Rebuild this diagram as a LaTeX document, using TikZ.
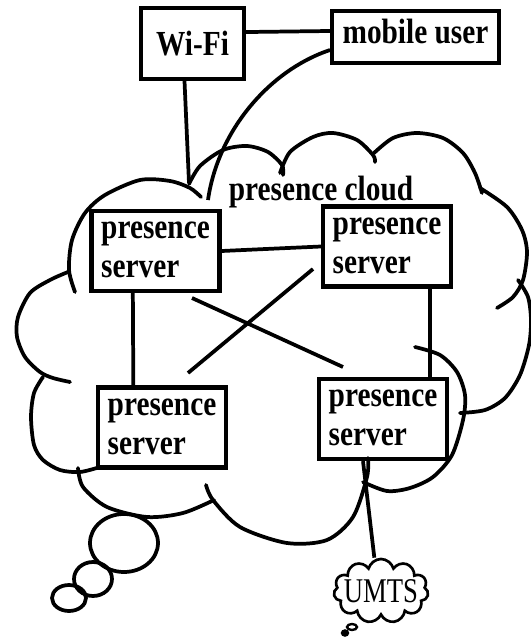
\documentclass[tikz,border=0pt]{standalone}
\usepackage{fontspec}
\setmainfont{Liberation Serif}
\usepackage{graphicx}
\usetikzlibrary{shapes.symbols}
\newcommand{\tall}[1]{\scalebox{1}[1.2]{#1}}

\begin{document}
\begin{tikzpicture}[x=0.75pt,y=-0.75pt,
    box/.style={draw, line width=3.2pt, inner sep=0pt, font=\fontsize{22}{29.25}\selectfont\bfseries},
    server/.style={box, minimum width=96pt, minimum height=60pt, align=left, text depth=1.5pt},
    wire/.style={line width=2.8pt},
    puff/.style={line width=2.8pt, line cap=round}]
\useasboundingbox (0,0) rectangle (531,642);

% the big cloud, bump by bump
\draw[puff] plot[smooth] coordinates {(75,292) (69,270) (72,240) (85,213) (105,195) (140,180) (170,181) (190,188) (201,197)};
\draw[puff] plot[smooth] coordinates {(189,184) (200,166) (223,150) (247,146) (268,152) (282,165) (283,175)};
\draw[puff] plot[smooth] coordinates {(280,173) (290,152) (313,137) (333,133) (357,140) (373,155) (375,162)};
\draw[puff] plot[smooth] coordinates {(374,153) (393,138) (417,133) (443,138) (463,153) (475,173) (482,193)};
\draw[puff] plot[smooth] coordinates {(480,188) (507,207) (522,230) (527,252) (523,280) (513,297) (497,308)};
\draw[puff] plot[smooth] coordinates {(518,280) (528,297) (531,320) (529,345) (520,375) (505,398) (485,410) (460,413)};
\draw[puff] plot[smooth] coordinates {(415,347) (440,355) (457,372) (465,395) (463,420) (452,455) (433,477) (410,488) (387,491) (363,482)};
\draw[puff] plot[smooth] coordinates {(368,458) (367,477) (353,517) (327,540) (287,543) (240,527) (213,500) (206,485)};
\draw[puff] plot[smooth] coordinates {(214,500) (183,513) (147,517) (107,507) (83,487) (78,468)};
\draw[puff] plot[smooth] coordinates {(43,377) (34,393) (31,417) (34,445) (43,460) (60,470) (80,472) (100,467)};
\draw[puff] plot[smooth] coordinates {(68,272) (50,280) (30,293) (18,317) (17,337) (25,357) (40,372) (53,378) (70,382)};

% thought bubbles
\draw[puff] (124,543) ellipse [x radius=34, y radius=29];
\draw[puff] (93,579) ellipse [x radius=19, y radius=17];
\draw[puff] (69,598) ellipse [x radius=17, y radius=13];

\node[font=\fontsize{22}{25}\selectfont\bfseries, anchor=base] (cloudname) at (321,200) {\tall{presence cloud}};

\node[box, minimum width=77pt, minimum height=53pt] (wifi) at (192.5,43.5) {\tall{Wi-Fi}};
\node[box, minimum width=125pt, minimum height=39pt, text depth=8pt] (mobile) at (415.5,37) {\tall{mobile user}};

\node[server] (tl) at (155.5,251) {\tall{presence}\\\tall{server}};
\node[server] (tr) at (387,246.5) {\tall{presence}\\\tall{server}};
\node[server] (bl) at (162,427.5) {\tall{presence}\\\tall{server}};
\node[server] (br) at (383,419) {\tall{presence}\\\tall{server}};

\node[cloud, draw, line width=2pt, cloud puffs=11, cloud ignores aspect, minimum width=71pt, minimum height=48pt, inner sep=0pt] (umts) at (381,591) {};
\node[font=\fontsize{20}{22}\selectfont] (umtsname) at (umts.center) {\scalebox{1}[1.3]{UMTS}};
\draw[line width=1.8pt] (352,627) ellipse [x radius=5, y radius=3];
\draw[line width=1.8pt, fill] (345,633) ellipse [x radius=3, y radius=2.5];

% links
\coordinate (wifiend) at (189,183);
\coordinate (mobileend) at (208,200);
\draw[wire] ([yshift=8.6pt]wifi.east) -- ([yshift=4.5pt]mobile.west);
\draw[wire] ([xshift=-6pt]wifi.south) -- (wifiend);
\draw[wire] ([yshift=-9.75pt]mobile.west) .. controls (270,70) and (218,130) .. (mobileend);

\coordinate (a1) at (313,269);
\coordinate (a2) at (188,373);
\coordinate (b1) at (192,298);
\coordinate (b2) at (343,367);
\draw[wire] (tl.east) -- (tr.west);
\draw[wire] ([xshift=-17pt]tl.south) -- ([xshift=-21.5pt]bl.north);
\draw[wire] ([xshift=32pt]tr.south) -- ([xshift=35pt]br.north);
\draw[wire] (a1) -- (a2);
\draw[wire] (b1) -- (b2);
\draw[wire] ([xshift=-15pt]br.south) -- ([xshift=-5pt]umts.north);
\end{tikzpicture}
\end{document}
